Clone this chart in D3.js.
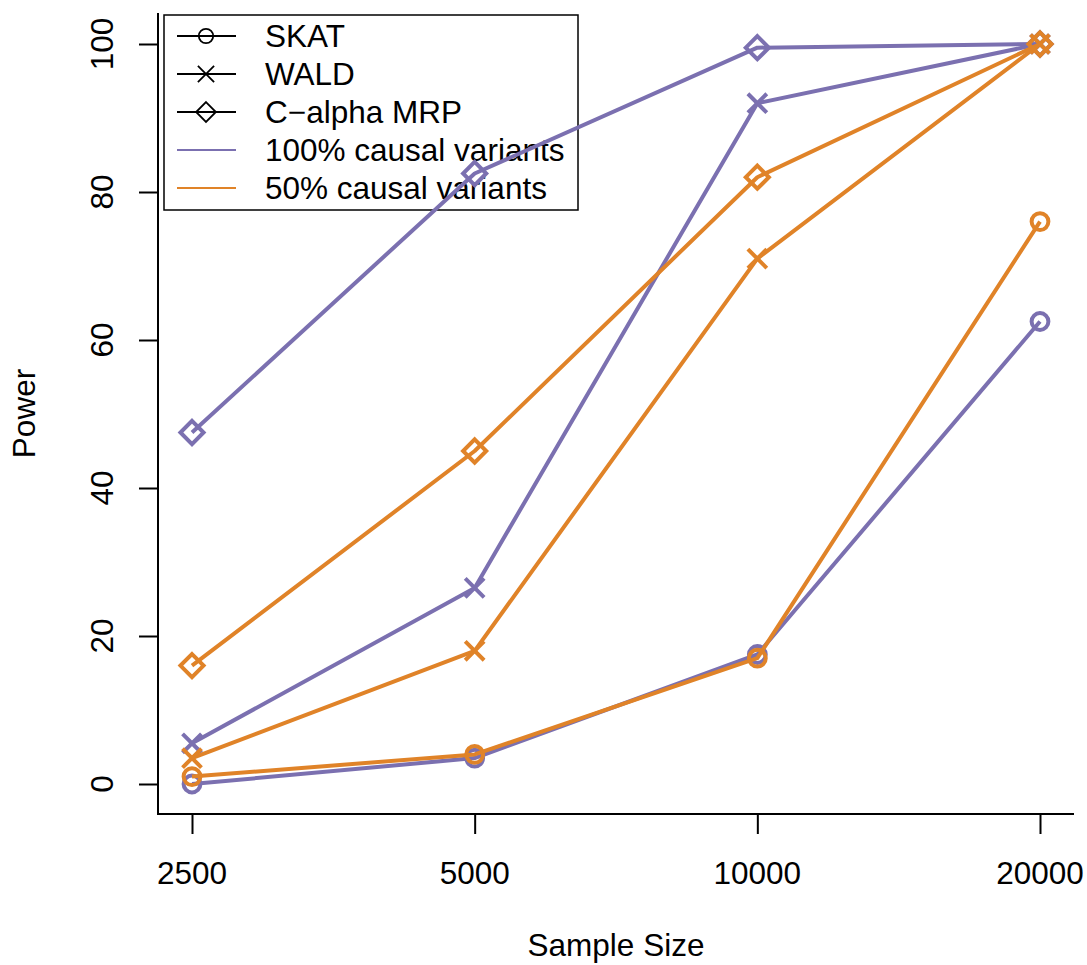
<!DOCTYPE html>
<html>
<head>
<meta charset="utf-8">
<script src="https://cdn.jsdelivr.net/npm/d3@7"></script>
<style>
  body { margin: 0; background: #fff; }
  svg { display: block; }
  text { font-family: "Liberation Sans", Arial, Helvetica, sans-serif; fill: #000; }
</style>
</head>
<body>
<div id="chart"></div>
<script>
'use strict';

// Data.
const sampleSizes = [2500, 5000, 10000, 20000];
const yTicks = [0, 20, 40, 60, 80, 100];

const skat100 = [0, 3.5, 17.5, 62.5];
const wald100 = [5.5, 26.5, 92, 100];
const calpha100 = [47.5, 82.5, 99.5, 100];

const skat50 = [1, 4, 17, 76];
const wald50 = [3.5, 18, 71, 100];
const calpha50 = [16, 45, 82, 100];

const methods = ['SKAT', 'WALD', 'C\u2212alpha MRP'];
const scenarios = ['100% causal variants', '50% causal variants'];

const purple = '#7b70b0';
const orange = '#e08328';

const series = [
  { values: skat100, shape: 'circle', color: purple },
  { values: wald100, shape: 'cross', color: purple },
  { values: calpha100, shape: 'diamond', color: purple },
  { values: skat50, shape: 'circle', color: orange },
  { values: wald50, shape: 'cross', color: orange },
  { values: calpha50, shape: 'diamond', color: orange }
];

const width = 1087, height = 965;
const box = { left: 158, right: 1074, top: 13, bottom: 814 };
const fontSize = 31.5;

const svg = d3.select('#chart').append('svg')
  .attr('width', width)
  .attr('height', height);

const x = d3.scaleLog().base(2).domain([2500, 20000]).range([192, 1040]);
const y = d3.scaleLinear().domain([0, 100]).range([784, 44]);

// L-shaped frame
svg.append('path')
  .attr('d', `M${box.left},${box.top}V${box.bottom}H${box.right}`)
  .attr('fill', 'none')
  .attr('stroke', '#000')
  .attr('stroke-width', 2);

// y axis
const yAxis = svg.append('g').attr('transform', `translate(${box.left},0)`)
  .call(d3.axisLeft(y).tickValues(yTicks).tickSize(19).tickFormat(''));
yAxis.select('.domain').remove();
yAxis.selectAll('line').attr('stroke-width', 2);
svg.append('g').selectAll('text')
  .data(yTicks)
  .enter().append('text')
  .attr('transform', d => `translate(113,${y(d)}) rotate(-90)`)
  .attr('text-anchor', 'middle')
  .attr('font-size', fontSize)
  .text(d => d);

// x axis
const xAxis = svg.append('g').attr('transform', `translate(0,${box.bottom})`)
  .call(d3.axisBottom(x).tickValues(sampleSizes).tickSize(20).tickFormat(''));
xAxis.select('.domain').remove();
xAxis.selectAll('line').attr('stroke-width', 2);
svg.append('g').selectAll('text')
  .data(sampleSizes)
  .enter().append('text')
  .attr('x', d => x(d))
  .attr('y', 884)
  .attr('text-anchor', 'middle')
  .attr('font-size', fontSize)
  .text(d => d);

// axis titles
svg.append('text')
  .attr('x', (box.left + box.right) / 2)
  .attr('y', 956)
  .attr('text-anchor', 'middle')
  .attr('font-size', fontSize)
  .text('Sample Size');
svg.append('text')
  .attr('transform', `translate(35,${(box.top + box.bottom) / 2}) rotate(-90)`)
  .attr('text-anchor', 'middle')
  .attr('font-size', fontSize)
  .text('Power');

function drawMarker(g, shape, cx, cy, s, color, sw) {
  if (shape === 'circle') {
    g.append('circle').attr('cx', cx).attr('cy', cy).attr('r', s * 0.8)
      .attr('fill', 'none').attr('stroke', color).attr('stroke-width', sw);
  } else if (shape === 'cross') {
    const h = s * 0.9;
    g.append('path')
      .attr('d', `M${cx - h},${cy - h}L${cx + h},${cy + h}M${cx - h},${cy + h}L${cx + h},${cy - h}`)
      .attr('fill', 'none').attr('stroke', color).attr('stroke-width', sw);
  } else {
    const h = s * 1.1;
    g.append('path')
      .attr('d', `M${cx},${cy - h}L${cx + h},${cy}L${cx},${cy + h}L${cx - h},${cy}Z`)
      .attr('fill', 'none').attr('stroke', color).attr('stroke-width', sw);
  }
}

// legend (transparent box, drawn under the data)
const legend = svg.append('g');
legend.append('rect')
  .attr('x', 164).attr('y', 15)
  .attr('width', 414).attr('height', 195)
  .attr('fill', 'none')
  .attr('stroke', '#000')
  .attr('stroke-width', 1.5);

const legendItems = [
  { label: methods[0], color: '#000', shape: 'circle' },
  { label: methods[1], color: '#000', shape: 'cross' },
  { label: methods[2], color: '#000', shape: 'diamond' },
  { label: scenarios[0], color: purple, shape: null },
  { label: scenarios[1], color: orange, shape: null }
];
legendItems.forEach((d, i) => {
  const cy = 36 + i * 38;
  legend.append('line')
    .attr('x1', 177).attr('x2', 236)
    .attr('y1', cy).attr('y2', cy)
    .attr('stroke', d.color)
    .attr('stroke-width', 1.8);
  if (d.shape) drawMarker(legend, d.shape, 206, cy, 9, '#000', 1.8);
  legend.append('text')
    .attr('x', 265).attr('y', cy + 11)
    .attr('font-size', fontSize)
    .text(d.label);
});

const line = d3.line()
  .x((d, i) => x(sampleSizes[i]))
  .y(d => y(d));

const plot = svg.append('g');
series.forEach(s => {
  const g = plot.append('g');
  g.append('path')
    .attr('d', line(s.values))
    .attr('fill', 'none')
    .attr('stroke', s.color)
    .attr('stroke-width', 4)
    .attr('stroke-linejoin', 'round');
  s.values.forEach((v, i) => {
    drawMarker(g, s.shape, x(sampleSizes[i]), y(v), 10.5, s.color, 4);
  });
});
</script>
</body>
</html>
